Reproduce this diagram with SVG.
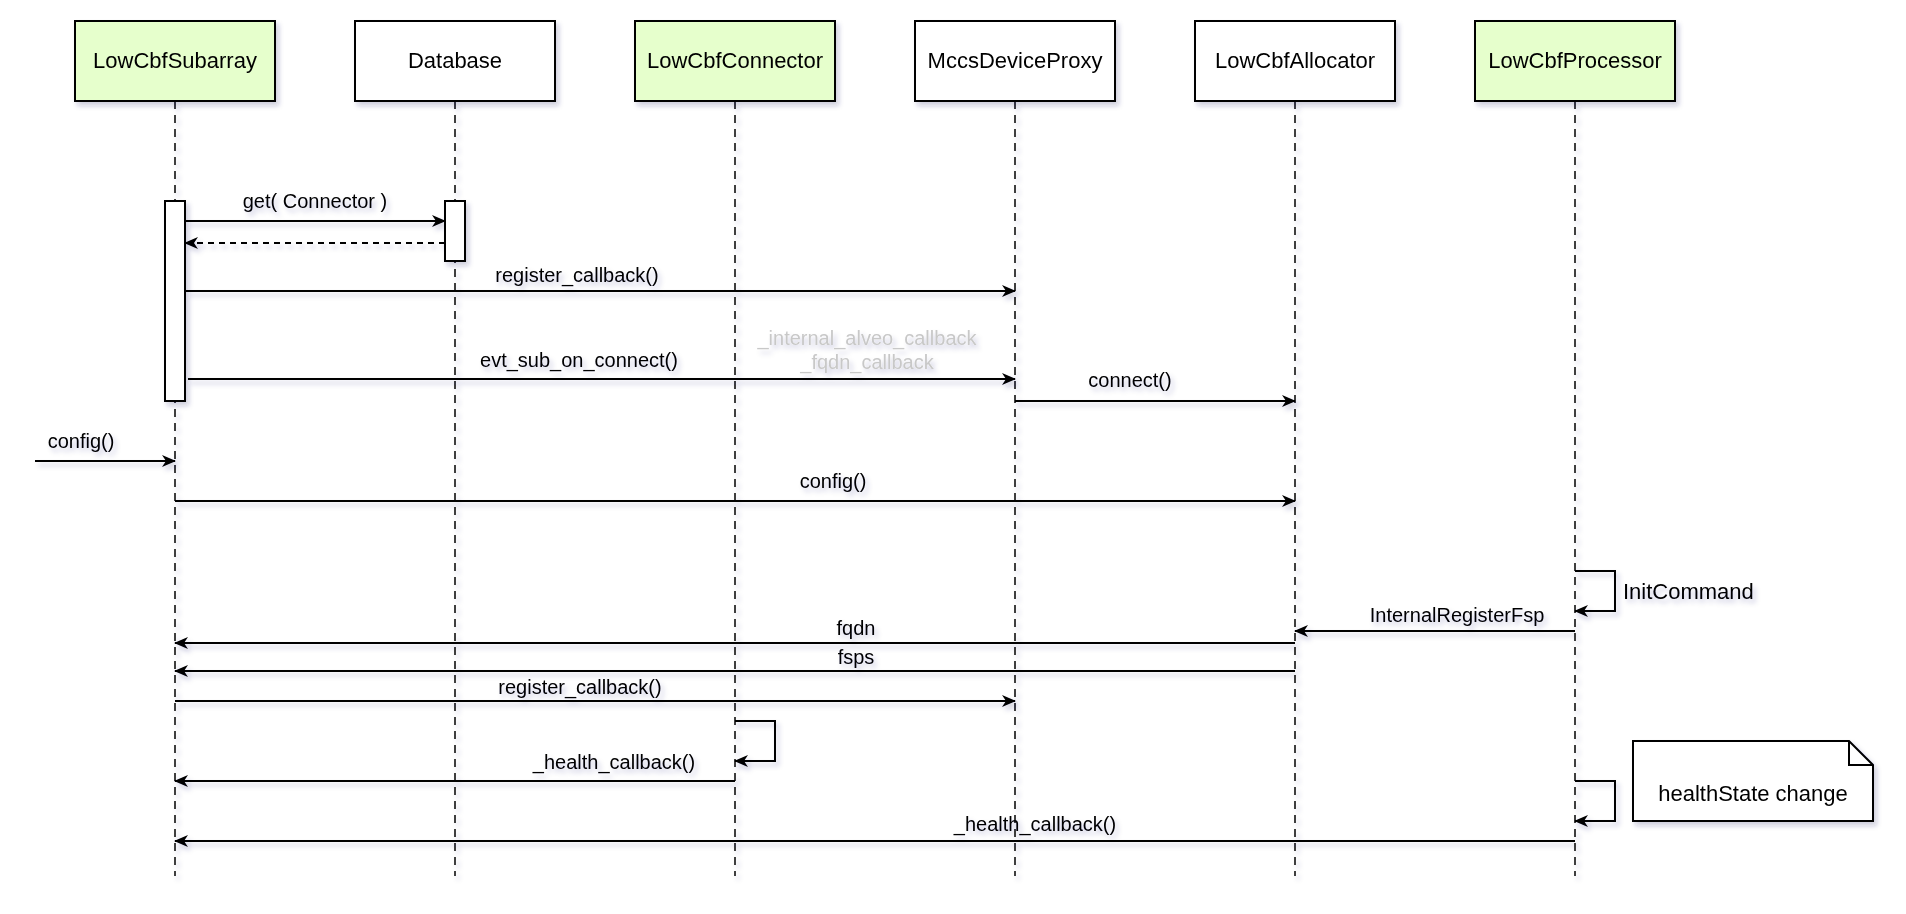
<svg xmlns="http://www.w3.org/2000/svg" width="1906" height="914" viewBox="0 0 1906 914">
<style>
.box{stroke:#000;stroke-width:2}
.g{fill:#e6ffcc}
.w{fill:#fff}
.lbl{font-family:"Liberation Sans",Arial,sans-serif;font-size:22px;fill:#000;text-anchor:middle}
.msg{font-family:"Liberation Sans",Arial,sans-serif;font-size:20px;fill:#000;text-anchor:middle}
.life{stroke:#000;stroke-width:1.5;stroke-dasharray:8 6;fill:none}
.ln{stroke:#000;stroke-width:2;fill:none;marker-end:url(#ah)}
.dash{stroke-dasharray:6 5}
.gray{fill:#c8c8c8}
</style>
<defs>
<marker id="ah" viewBox="0 0 14 12" refX="13" refY="6" markerWidth="14" markerHeight="12" markerUnits="userSpaceOnUse" orient="auto">
<path d="M0,0 L14,6 L0,12 L4,6 Z" fill="#000"/>
</marker>
<filter id="sh" x="-10%" y="-10%" width="130%" height="140%">
<feDropShadow dx="3" dy="4" stdDeviation="2.5" flood-color="#2a2a6a" flood-opacity="0.22"/>
</filter>
</defs>
<rect width="1906" height="914" fill="#fff"/>
<g filter="url(#sh)">
<g id="lifelines">
<line class="life" x1="175" y1="101" x2="175" y2="876"/>
<line class="life" x1="455" y1="101" x2="455" y2="876"/>
<line class="life" x1="735" y1="101" x2="735" y2="876"/>
<line class="life" x1="1015" y1="101" x2="1015" y2="876"/>
<line class="life" x1="1295" y1="101" x2="1295" y2="876"/>
<line class="life" x1="1575" y1="101" x2="1575" y2="876"/>
</g>
<g id="LowCbfSubarray"><rect class="box g" x="75" y="21" width="200" height="80"/><text class="lbl" x="175" y="68">LowCbfSubarray</text></g>
<g id="Database"><rect class="box w" x="355" y="21" width="200" height="80"/><text class="lbl" x="455" y="68">Database</text></g>
<g id="LowCbfConnector"><rect class="box g" x="635" y="21" width="200" height="80"/><text class="lbl" x="735" y="68">LowCbfConnector</text></g>
<g id="MccsDeviceProxy"><rect class="box w" x="915" y="21" width="200" height="80"/><text class="lbl" x="1015" y="68">MccsDeviceProxy</text></g>
<g id="LowCbfAllocator"><rect class="box w" x="1195" y="21" width="200" height="80"/><text class="lbl" x="1295" y="68">LowCbfAllocator</text></g>
<g id="LowCbfProcessor"><rect class="box g" x="1475" y="21" width="200" height="80"/><text class="lbl" x="1575" y="68">LowCbfProcessor</text></g>
<g id="activations">
<rect class="box w" x="165" y="201" width="20" height="200"/>
<rect class="box w" x="445" y="201" width="20" height="60"/>
</g>
<g id="note"><path class="box w" d="M1633,741 H1849 L1873,765 V821 H1633 Z"/><path d="M1849,741 V765 H1873" fill="none" stroke="#000" stroke-width="2"/><text class="msg" x="1753" y="801" style="font-size:22px">healthState change</text></g>
<g id="connectors">
<line class="ln" x1="185" y1="221" x2="445" y2="221"/>
<line class="ln dash" x1="445" y1="243" x2="185" y2="243"/>
<line class="ln" x1="185" y1="291" x2="1015" y2="291"/>
<line class="ln" x1="188" y1="379" x2="1015" y2="379"/>
<line class="ln" x1="1015" y1="401" x2="1295" y2="401"/>
<line class="ln" x1="35" y1="461" x2="175" y2="461"/>
<line class="ln" x1="175" y1="501" x2="1295" y2="501"/>
<path class="ln" d="M1575,571 H1615 V611 H1575"/>
<line class="ln" x1="1575" y1="631" x2="1295" y2="631"/>
<line class="ln" x1="1295" y1="643" x2="175" y2="643"/>
<line class="ln" x1="1295" y1="671" x2="175" y2="671"/>
<line class="ln" x1="175" y1="701" x2="1015" y2="701"/>
<path class="ln" d="M735,721 H775 V761 H735"/>
<line class="ln" x1="735" y1="781" x2="175" y2="781"/>
<path class="ln" d="M1575,781 H1615 V821 H1575"/>
<line class="ln" x1="1575" y1="841" x2="175" y2="841"/>
</g>
<g id="labels">
<text class="msg" x="315" y="208">get( Connector )</text>
<text class="msg" x="577" y="282">register_callback()</text>
<text class="msg gray" x="867" y="345">_internal_alveo_callback</text>
<text class="msg gray" x="867" y="369">_fqdn_callback</text>
<text class="msg" x="579" y="367">evt_sub_on_connect()</text>
<text class="msg" x="1130" y="387">connect()</text>
<text class="msg" x="81" y="448">config()</text>
<text class="msg" x="833" y="488">config()</text>
<text class="msg" x="1623" y="599" style="text-anchor:start;font-size:22px">InitCommand</text>
<text class="msg" x="1457" y="622">InternalRegisterFsp</text>
<text class="msg" x="856" y="635">fqdn</text>
<text class="msg" x="856" y="664">fsps</text>
<text class="msg" x="580" y="694">register_callback()</text>
<text class="msg" x="614" y="769">_health_callback()</text>
<text class="msg" x="1035" y="831">_health_callback()</text>
</g>
</g>
</svg>
